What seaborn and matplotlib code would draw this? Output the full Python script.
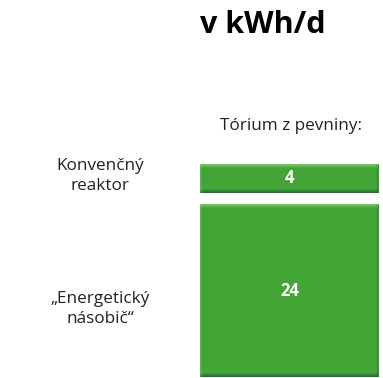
import numpy as np
import matplotlib
matplotlib.use("Agg")
import matplotlib.pyplot as plt
from matplotlib.colors import to_rgb
import seaborn as sns

# Thorium on land, energy per person per day
categories = ["Konvenčný\nreaktor", "„Energetický\nnásobič“"]
values = [4, 24]
value_labels = ["4", "24"]
title = "v kWh/d"
column_header = "Tórium z pevniny:"

sns.set_theme(style="white")
plt.rcParams["font.family"] = ["Open Sans", "DejaVu Sans"]

W, H, DPI = 383, 378, 100
fig = plt.figure(figsize=(W / DPI, H / DPI), dpi=DPI)
fig.patch.set_facecolor("white")

gap = 1.7  # vertical gap between the two blocks, in kWh/d units
ax = fig.add_axes([200 / W, 1 / H, 179 / W, 213 / H])
ax.set_xlim(-0.5, 0.5)
ax.set_ylim(0, sum(values) + gap)
ax.axis("off")

# stack: largest block at the bottom, smaller one above it
bottoms = [values[1] + gap, 0]
base = np.array(to_rgb("#43a536"))
light = np.array(to_rgb("#8ccb78"))
dark = np.array(to_rgb("#1a7330"))

bars = ax.bar([0, 0], values, bottom=bottoms, width=1.0, color="#43a536",
              linewidth=0)

px_per_unit = 213 / (sum(values) + gap)
for bar in bars:
    x0, y0 = bar.get_x(), bar.get_y()
    w, h = bar.get_width(), bar.get_height()
    nrow = max(int(round(h * px_per_unit)), 8)
    ncol = 179
    img = np.tile(base, (nrow, ncol, 1)).astype(float)
    # bevel: light top, dark bottom, shaded right edge
    for i, t in enumerate([0.8, 0.55, 0.35, 0.15]):
        img[i] = base + (light - base) * t
    for i, t in enumerate([0.9, 0.7, 0.45, 0.2]):
        img[nrow - 1 - i] = base + (dark - base) * t
    for j, t in enumerate([0.8, 0.55, 0.3]):
        img[:, ncol - 1 - j] = img[:, ncol - 1 - j] * (1 - t * 0.5) + dark * t * 0.5
    for j, t in enumerate([0.4, 0.2]):
        img[:, j] = img[:, j] * (1 - t) + light * t
    ax.imshow(img, extent=(x0, x0 + w, y0, y0 + h), aspect="auto",
              interpolation="nearest", clip_path=bar, zorder=2)

for bar, lab in zip(bars, value_labels):
    ax.text(bar.get_x() + bar.get_width() / 2, bar.get_y() + bar.get_height() / 2,
            lab, ha="center", va="center", color="white", fontsize=12,
            fontweight="bold", zorder=3)

fig.text(263 / W, 1 - 25 / H, title, ha="center", va="center",
         fontsize=22, fontweight="bold", color="black")
fig.text(291 / W, 1 - 126 / H, column_header, ha="center", va="center",
         fontsize=12.3, color="#222222")
fig.text(100 / W, 1 - 176 / H, categories[0], ha="center", va="center",
         fontsize=12.3, color="#222222", linespacing=1.4)
fig.text(100 / W, 1 - 309 / H, categories[1], ha="center", va="center",
         fontsize=12.3, color="#222222", linespacing=1.4)

fig.savefig("out.png", dpi=DPI, facecolor="white")
